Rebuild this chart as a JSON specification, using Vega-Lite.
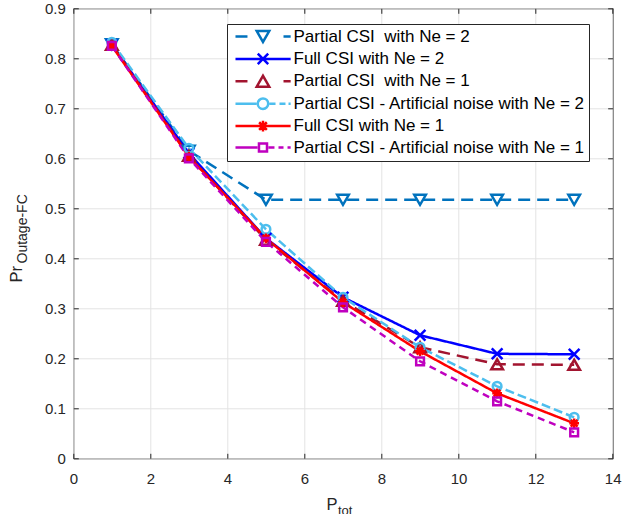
{
  "$schema": "https://vega.github.io/schema/vega-lite/v6.json",
  "autosize": "none",
  "width": 539.4,
  "height": 450,
  "padding": {"left": 73.3, "top": 8.3, "right": 30.3, "bottom": 55.7},
  "background": "white",
  "config": {
    "font": "Liberation Sans",
    "view": {"stroke": "#262626", "strokeWidth": 1}
  },
  "data": {"values": [
    {"series": "Partial CSI\u00a0 with Ne = 2", "x": 1, "y": 0.828},
    {"series": "Partial CSI\u00a0 with Ne = 2", "x": 3, "y": 0.615},
    {"series": "Partial CSI\u00a0 with Ne = 2", "x": 5, "y": 0.517},
    {"series": "Partial CSI\u00a0 with Ne = 2", "x": 7, "y": 0.517},
    {"series": "Partial CSI\u00a0 with Ne = 2", "x": 9, "y": 0.517},
    {"series": "Partial CSI\u00a0 with Ne = 2", "x": 11, "y": 0.517},
    {"series": "Partial CSI\u00a0 with Ne = 2", "x": 13, "y": 0.517},
    {"series": "Full CSI with Ne = 2", "x": 1, "y": 0.827},
    {"series": "Full CSI with Ne = 2", "x": 3, "y": 0.61},
    {"series": "Full CSI with Ne = 2", "x": 5, "y": 0.44},
    {"series": "Full CSI with Ne = 2", "x": 7, "y": 0.322},
    {"series": "Full CSI with Ne = 2", "x": 9, "y": 0.246},
    {"series": "Full CSI with Ne = 2", "x": 11, "y": 0.209},
    {"series": "Full CSI with Ne = 2", "x": 13, "y": 0.208},
    {"series": "Partial CSI\u00a0 with Ne = 1", "x": 1, "y": 0.827},
    {"series": "Partial CSI\u00a0 with Ne = 1", "x": 3, "y": 0.605},
    {"series": "Partial CSI\u00a0 with Ne = 1", "x": 5, "y": 0.437},
    {"series": "Partial CSI\u00a0 with Ne = 1", "x": 7, "y": 0.315},
    {"series": "Partial CSI\u00a0 with Ne = 1", "x": 9, "y": 0.222},
    {"series": "Partial CSI\u00a0 with Ne = 1", "x": 11, "y": 0.188},
    {"series": "Partial CSI\u00a0 with Ne = 1", "x": 13, "y": 0.187},
    {"series": "Partial CSI - Artificial noise with Ne = 2", "x": 1, "y": 0.832},
    {"series": "Partial CSI - Artificial noise with Ne = 2", "x": 3, "y": 0.62},
    {"series": "Partial CSI - Artificial noise with Ne = 2", "x": 5, "y": 0.458},
    {"series": "Partial CSI - Artificial noise with Ne = 2", "x": 7, "y": 0.322},
    {"series": "Partial CSI - Artificial noise with Ne = 2", "x": 9, "y": 0.222},
    {"series": "Partial CSI - Artificial noise with Ne = 2", "x": 11, "y": 0.144},
    {"series": "Partial CSI - Artificial noise with Ne = 2", "x": 13, "y": 0.082},
    {"series": "Full CSI with Ne = 1", "x": 1, "y": 0.825},
    {"series": "Full CSI with Ne = 1", "x": 3, "y": 0.603},
    {"series": "Full CSI with Ne = 1", "x": 5, "y": 0.44},
    {"series": "Full CSI with Ne = 1", "x": 7, "y": 0.312},
    {"series": "Full CSI with Ne = 1", "x": 9, "y": 0.214},
    {"series": "Full CSI with Ne = 1", "x": 11, "y": 0.13},
    {"series": "Full CSI with Ne = 1", "x": 13, "y": 0.07},
    {"series": "Partial CSI - Artificial noise with Ne = 1", "x": 1, "y": 0.825},
    {"series": "Partial CSI - Artificial noise with Ne = 1", "x": 3, "y": 0.6},
    {"series": "Partial CSI - Artificial noise with Ne = 1", "x": 5, "y": 0.433},
    {"series": "Partial CSI - Artificial noise with Ne = 1", "x": 7, "y": 0.302},
    {"series": "Partial CSI - Artificial noise with Ne = 1", "x": 9, "y": 0.194},
    {"series": "Partial CSI - Artificial noise with Ne = 1", "x": 11, "y": 0.114},
    {"series": "Partial CSI - Artificial noise with Ne = 1", "x": 13, "y": 0.052}
  ]},
  "resolve": {"axis": {"x": "independent", "y": "independent"}},
  "layer": [
    {
      "mark": {"type": "line", "strokeWidth": 2.5},
      "encoding": {
        "x": {"field": "x", "type": "quantitative",
          "scale": {"domain": [0, 14], "nice": false},
          "axis": {"orient": "bottom", "values": [0, 2, 4, 6, 8, 10, 12, 14],
            "title": "P", "titleFontSize": 16.5, "titleFontWeight": "normal", "titleColor": "#262626",
            "titleAlign": "left", "titleBaseline": "alphabetic", "titleX": 252.7, "titleY": 50.7,
            "labelFontSize": 15, "labelColor": "#262626", "labelPadding": 18, "labelFlush": false,
            "tickSize": -5, "tickColor": "#262626", "domain": false,
            "grid": true, "gridColor": "#E3E3E3"}},
        "y": {"field": "y", "type": "quantitative",
          "scale": {"domain": [0, 0.9], "nice": false},
          "axis": {"orient": "left", "values": [0, 0.1, 0.2, 0.3, 0.4, 0.5, 0.6, 0.7, 0.8, 0.9], "format": ".1~f",
            "title": "Pr", "titleFontSize": 16.5, "titleFontWeight": "normal", "titleColor": "#262626",
            "titleAngle": -90, "titleAlign": "left", "titleBaseline": "alphabetic", "titleX": -51.6, "titleY": 273.7,
            "labelFontSize": 15, "labelColor": "#262626", "labelPadding": 13, "labelFlush": false,
            "tickSize": -5, "tickColor": "#262626", "domain": false,
            "grid": true, "gridColor": "#E3E3E3"}},
        "color": {"field": "series", "type": "nominal",
          "scale": {"range": ["#FF0000", "#0000FF", "#BF00BF", "#4DBEEE", "#A2142F", "#0072BD"]},
          "legend": null},
        "strokeDash": {"field": "series", "type": "nominal",
          "scale": {"range": [[1, 0], [1, 0], [7, 5], [9, 4], [12, 7], [12, 7]]},
          "legend": null}
      }
    },
    {
      "transform": [{"filter": {"field": "series", "equal": "Partial CSI\u00a0 with Ne = 2"}}],
      "mark": {"type": "point", "shape": "triangle-down", "filled": false, "strokeWidth": 2.5, "size": 135, "color": "#0072BD", "opacity": 1},
      "encoding": {
        "x": {"field": "x", "type": "quantitative",
          "axis": {"orient": "top", "values": [0, 2, 4, 6, 8, 10, 12, 14], "labels": false,
            "tickSize": -5, "tickColor": "#262626", "domain": false, "grid": false,
            "title": "tot", "titleFontSize": 13, "titleFontWeight": "normal", "titleColor": "#262626",
            "titleAlign": "left", "titleBaseline": "alphabetic", "titleX": 264.2, "titleY": 505.7}},
        "y": {"field": "y", "type": "quantitative",
          "axis": {"orient": "right", "values": [0, 0.1, 0.2, 0.3, 0.4, 0.5, 0.6, 0.7, 0.8, 0.9], "labels": false,
            "tickSize": -5, "tickColor": "#262626", "domain": false, "grid": false,
            "title": "Outage-FC", "titleFontSize": 14, "titleFontWeight": "normal", "titleColor": "#262626",
            "titleAngle": -90, "titleAlign": "left", "titleBaseline": "alphabetic", "titleX": -586.2, "titleY": 254.7}}
      }
    },
    {
      "transform": [{"filter": {"field": "series", "equal": "Full CSI with Ne = 2"}}],
      "mark": {"type": "point", "shape": "M-1,-1L1,1M-1,1L1,-1", "filled": false, "strokeWidth": 2.5, "size": 115, "color": "#0000FF", "opacity": 1},
      "encoding": {
        "x": {"field": "x", "type": "quantitative", "axis": null},
        "y": {"field": "y", "type": "quantitative", "axis": null}
      }
    },
    {
      "transform": [{"filter": {"field": "series", "equal": "Partial CSI\u00a0 with Ne = 1"}}],
      "mark": {"type": "point", "shape": "triangle-up", "filled": false, "strokeWidth": 2.5, "size": 135, "color": "#A2142F", "opacity": 1},
      "encoding": {
        "x": {"field": "x", "type": "quantitative", "axis": null},
        "y": {"field": "y", "type": "quantitative", "axis": null}
      }
    },
    {
      "transform": [{"filter": {"field": "series", "equal": "Partial CSI - Artificial noise with Ne = 2"}}],
      "mark": {"type": "point", "shape": "circle", "filled": false, "strokeWidth": 2.5, "size": 75, "color": "#4DBEEE", "opacity": 1},
      "encoding": {
        "x": {"field": "x", "type": "quantitative", "axis": null},
        "y": {"field": "y", "type": "quantitative", "axis": null}
      }
    },
    {
      "transform": [{"filter": {"field": "series", "equal": "Full CSI with Ne = 1"}}],
      "mark": {"type": "point", "shape": "M-1,0H1M0,-1V1M-0.7,-0.7L0.7,0.7M-0.7,0.7L0.7,-0.7", "filled": false, "strokeWidth": 2.5, "size": 95, "color": "#FF0000", "opacity": 1},
      "encoding": {
        "x": {"field": "x", "type": "quantitative", "axis": null},
        "y": {"field": "y", "type": "quantitative", "axis": null}
      }
    },
    {
      "transform": [{"filter": {"field": "series", "equal": "Partial CSI - Artificial noise with Ne = 1"}}],
      "mark": {"type": "point", "shape": "square", "filled": false, "strokeWidth": 2.5, "size": 60, "color": "#BF00BF", "opacity": 1},
      "encoding": {
        "x": {"field": "x", "type": "quantitative", "axis": null},
        "y": {"field": "y", "type": "quantitative", "axis": null}
      }
    },
    {
      "transform": [{"filter": {"field": "x", "lt": 0}}],
      "mark": {"type": "point", "filled": false, "strokeWidth": 2.5, "opacity": 1},
      "encoding": {
        "x": {"field": "x", "type": "quantitative", "axis": null},
        "y": {"field": "y", "type": "quantitative", "axis": null},
        "shape": {"field": "series", "type": "nominal",
          "scale": {"domain": ["Partial CSI\u00a0 with Ne = 2", "Full CSI with Ne = 2", "Partial CSI\u00a0 with Ne = 1", "Partial CSI - Artificial noise with Ne = 2", "Full CSI with Ne = 1", "Partial CSI - Artificial noise with Ne = 1"],
            "range": [
              "M-0.73,0H1.45M8.0,0H9.3M3.13,-0.99H5.41L4.27,0.99Z",
              "M-0.73,0H9.3M3.32,-0.95L5.22,0.95M3.32,0.95L5.22,-0.95",
              "M-0.73,0H1.45M8.0,0H9.3M3.13,0.99H5.41L4.27,-0.99Z",
              "M-0.73,0H3.09M5.45,0H6.55M7.27,0H8.36M8.91,0H9.3M5.22,0A0.95,0.95 0 1,1 3.32,0A0.95,0.95 0 1,1 5.22,0",
              "M-0.73,0H9.3M3.28,0H5.26M4.27,-0.99V0.99M3.57,-0.7L4.97,0.7M3.57,0.7L4.97,-0.7",
              "M-0.73,0H3.27M5.27,0H6.36M7.09,0H8.0M8.73,0H9.3M3.54,-0.73H5.0V0.73H3.54Z"
            ]},
          "legend": {"orient": "none", "legendX": 153.7, "legendY": 15.7, "title": null,
            "symbolSize": 121, "symbolStrokeWidth": 2.5, "symbolFillColor": "transparent", "symbolOpacity": 1,
            "labelFontSize": 17, "labelColor": "#000000", "labelOffset": 45.5, "labelLimit": 400,
            "padding": 4, "rowPadding": 1.4, "fillColor": "white", "strokeColor": "#262626"}},
        "stroke": {"field": "series", "type": "nominal",
          "scale": {"domain": ["Partial CSI\u00a0 with Ne = 2", "Full CSI with Ne = 2", "Partial CSI\u00a0 with Ne = 1", "Partial CSI - Artificial noise with Ne = 2", "Full CSI with Ne = 1", "Partial CSI - Artificial noise with Ne = 1"],
            "range": ["#0072BD", "#0000FF", "#A2142F", "#4DBEEE", "#FF0000", "#BF00BF"]},
          "legend": {"orient": "none", "legendX": 153.7, "legendY": 15.7, "title": null,
            "symbolSize": 121, "symbolStrokeWidth": 2.5, "symbolFillColor": "transparent", "symbolOpacity": 1,
            "labelFontSize": 17, "labelColor": "#000000", "labelOffset": 45.5, "labelLimit": 400,
            "padding": 4, "rowPadding": 1.4, "fillColor": "white", "strokeColor": "#262626"}}
      }
    }
  ]
}
